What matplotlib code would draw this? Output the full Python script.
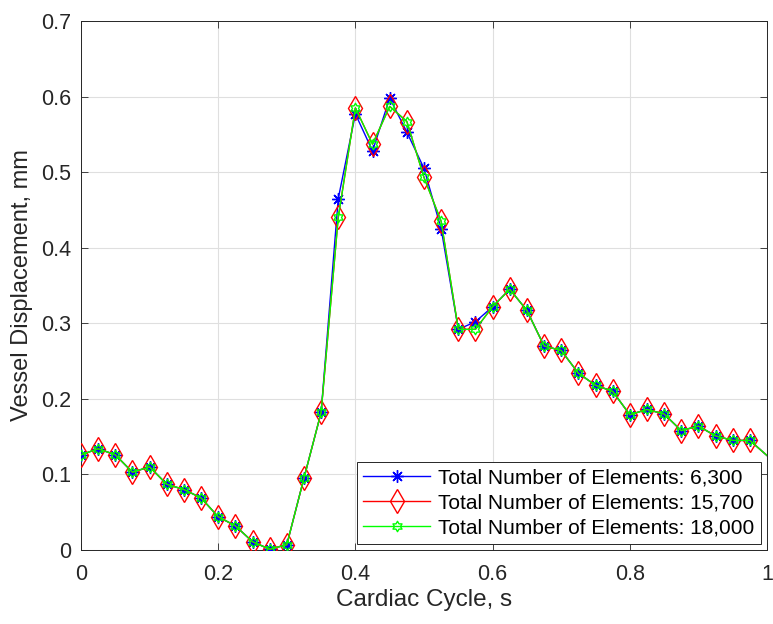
import numpy as np
import matplotlib.pyplot as plt
from matplotlib.path import Path

plt.rcParams['font.family'] = ['Liberation Sans', 'DejaVu Sans']

# marker positions along the cardiac cycle, plus the end of the line at t = 1
t = [0, 0.025, 0.05, 0.075, 0.1, 0.125, 0.15, 0.175, 0.2, 0.225,
     0.25, 0.275, 0.3, 0.325, 0.35, 0.375, 0.4, 0.425, 0.45, 0.475,
     0.5, 0.525, 0.55, 0.575, 0.6, 0.625, 0.65, 0.675, 0.7, 0.725,
     0.75, 0.775, 0.8, 0.825, 0.85, 0.875, 0.9, 0.925, 0.95, 0.975, 1.0]

disp_6300 = [0.126, 0.134, 0.126, 0.103, 0.110, 0.087, 0.080, 0.069, 0.044, 0.032,
             0.011, 0.001, 0.007, 0.095, 0.182, 0.465, 0.577, 0.528, 0.598, 0.553,
             0.505, 0.425, 0.292, 0.302, 0.322, 0.345, 0.317, 0.270, 0.264, 0.234,
             0.218, 0.210, 0.179, 0.186, 0.180, 0.158, 0.164, 0.151, 0.145, 0.145, 0.125]

disp_15700 = [0.126, 0.134, 0.126, 0.103, 0.110, 0.087, 0.080, 0.069, 0.044, 0.032,
              0.011, 0.001, 0.007, 0.095, 0.182, 0.440, 0.585, 0.537, 0.587, 0.567,
              0.493, 0.435, 0.292, 0.292, 0.322, 0.345, 0.317, 0.270, 0.264, 0.234,
              0.218, 0.210, 0.179, 0.186, 0.180, 0.158, 0.164, 0.151, 0.145, 0.145, 0.125]

disp_18000 = [0.126, 0.134, 0.126, 0.103, 0.110, 0.087, 0.080, 0.069, 0.044, 0.032,
              0.011, 0.001, 0.007, 0.095, 0.182, 0.440, 0.585, 0.537, 0.587, 0.567,
              0.493, 0.435, 0.292, 0.292, 0.322, 0.345, 0.317, 0.270, 0.264, 0.234,
              0.218, 0.210, 0.179, 0.186, 0.180, 0.158, 0.164, 0.151, 0.145, 0.145, 0.125]

labels = ['Total Number of Elements: 6,300',
          'Total Number of Elements: 15,700',
          'Total Number of Elements: 18,000']

# hexagram like MATLAB's 'h' marker
ang = np.pi / 2 + np.arange(12) * np.pi / 6
rad = np.where(np.arange(12) % 2 == 0, 1.0, 1 / np.sqrt(3))
verts = np.column_stack([rad * np.cos(ang), rad * np.sin(ang)])
hexagram = Path(np.vstack([verts, verts[:1]]), closed=True)

fig = plt.figure(figsize=(7.73, 6.24), dpi=100)
ax = fig.add_axes([81 / 773, 74 / 624, 686 / 773, 529 / 624])

marks = list(range(len(t) - 1))
ax.plot(t, disp_6300, color='#0000ff', lw=1, marker=(8, 2, 0), ms=9, mew=1,
        markevery=marks, label=labels[0], zorder=3)
ax.plot(t, disp_15700, color='#ff0000', lw=1, marker='d', ms=12, mew=1,
        mfc='none', markevery=marks, label=labels[1], zorder=4)
ax.plot(t, disp_18000, color='#00ff00', lw=1, marker=hexagram, ms=7.5, mew=1,
        mfc='none', markevery=marks, label=labels[2], zorder=5)

ax.set_xlim(0, 1)
ax.set_ylim(0, 0.7)
ax.set_xticks([0, 0.2, 0.4, 0.6, 0.8, 1])
ax.set_xticklabels(['0', '0.2', '0.4', '0.6', '0.8', '1'])
ax.set_yticks(np.arange(0, 0.71, 0.1))
ax.set_yticklabels(['0', '0.1', '0.2', '0.3', '0.4', '0.5', '0.6', '0.7'])
ax.grid(True, color='#dfdfdf', lw=0.8)
ax.set_axisbelow(True)
ax.tick_params(direction='in', length=5, width=0.6, top=True, right=True,
               labelsize=15.5, colors='#262626')
ax.tick_params(axis='x', pad=10)
ax.tick_params(axis='y', pad=7)
for s in ax.spines.values():
    s.set_color('#262626')
    s.set_linewidth(0.7)

ax.set_xlabel('Cardiac Cycle, s', fontsize=17.5, color='#262626', labelpad=3)
ax.set_ylabel('Vessel Displacement, mm', fontsize=17, color='#262626', labelpad=6)

leg = ax.legend(loc='lower right', fontsize=15, fancybox=False, framealpha=1,
                edgecolor='#262626', borderaxespad=0.3, handlelength=3.2,
                handletextpad=0.4, labelspacing=0.3, borderpad=0.3)
leg.get_frame().set_linewidth(0.7)

fig.savefig('out.png', dpi=100)
